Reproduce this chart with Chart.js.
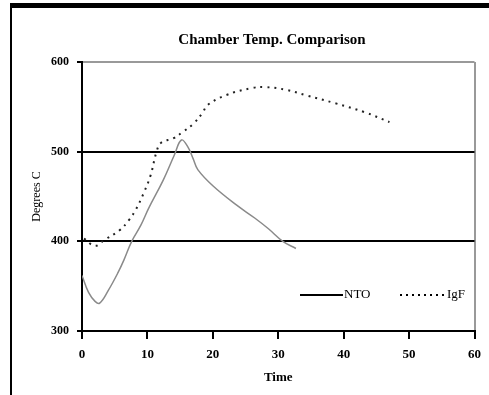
<!DOCTYPE html>
<html>
<head>
<meta charset="utf-8">
<script src="https://cdn.jsdelivr.net/npm/chart.js@4.4.1/dist/chart.umd.min.js"></script>
<style>
    html, body { margin: 0; padding: 0; background: #fff; }
    #wrap { position: relative; width: 489px; height: 395px; }
    #frame {
        position: absolute; left: 10px; top: 3px; width: 490px; height: 387px;
        border-left: 2px solid #000; border-top: 5px solid #000; border-bottom: 2px solid #000;
        pointer-events: none;
    }
    canvas { position: absolute; left: 0; top: 0; }
</style>
</head>
<body>
<div id="wrap">
    <canvas id="chart" width="489" height="395"></canvas>
    <div id="frame"></div>
</div>
<script>
// data (x = time, y = degrees C)
const ntoTime = [0, 1, 2, 2.7, 4, 5.5, 6.4, 7.6, 9, 10.2, 12.4, 14.1, 15.2, 16.2, 17, 17.7, 20, 23.7, 26.4, 28.5, 30.7, 32.7];
const ntoTemp = [362, 343, 333, 331, 345, 365, 379, 400, 418, 437, 468, 496, 513, 505, 492, 480, 462, 440, 426, 414, 400, 392];

const igfTime = [0.3, 2, 3.5, 5.7, 7.2, 8.2, 9.5, 10.5, 11.4, 12.1, 14, 15.4, 17, 18.4, 19.2, 22, 26, 28, 31.2, 34.2, 38.7, 43.2, 47];
const igfTemp = [403, 395, 402, 412, 424, 435, 455, 474, 500, 510, 515, 522, 531, 543, 552, 563, 571, 572, 569, 563, 554, 544, 533];

const xTicks = [0, 10, 20, 30, 40, 50, 60];
const yTicks = [300, 400, 500, 600];

const seriesNames = ['NTO', 'IgF'];

function toPoints(xs, ys) {
    return xs.map((x, i) => ({ x: x, y: ys[i] }));
}

const serif = '"Liberation Serif", "DejaVu Serif", serif';

// title, and a legend placed inside the plot area like the original
const extras = {
    id: 'extras',
    afterDraw(chart) {
        const ctx = chart.ctx;
        ctx.save();
        ctx.fillStyle = '#000';
        ctx.font = 'bold 15px ' + serif;
        ctx.textAlign = 'center';
        ctx.textBaseline = 'middle';
        ctx.fillText('Chamber Temp. Comparison', 272, 40);

        ctx.font = '13px ' + serif;
        ctx.textAlign = 'left';
        const ly = 295;
        // NTO entry
        ctx.strokeStyle = '#000';
        ctx.lineWidth = 2;
        ctx.setLineDash([]);
        ctx.beginPath(); ctx.moveTo(300, ly); ctx.lineTo(343, ly); ctx.stroke();
        ctx.fillText(seriesNames[0], 344, ly);
        // IgF entry
        ctx.setLineDash([2, 4]);
        ctx.beginPath(); ctx.moveTo(400, ly); ctx.lineTo(446, ly); ctx.stroke();
        ctx.setLineDash([]);
        ctx.fillText(seriesNames[1], 447, ly);
        ctx.restore();
    }
};

const ctx = document.getElementById('chart').getContext('2d');
const myChart = new Chart(ctx, {
    type: 'line',
    data: {
        datasets: [{
            label: seriesNames[0],
            data: toPoints(ntoTime, ntoTemp),
            borderColor: '#8a8a8a',
            borderWidth: 1.5,
            pointRadius: 0,
            tension: 0.4,
            fill: false
        }, {
            label: seriesNames[1],
            data: toPoints(igfTime, igfTemp),
            borderColor: '#222',
            borderWidth: 2,
            borderDash: [2, 5],
            pointRadius: 0,
            tension: 0.4,
            fill: false
        }]
    },
    options: {
        responsive: false,
        animation: false,
        layout: { padding: { left: 0, right: 7, top: 62, bottom: 0 } },
        plugins: {
            legend: { display: false },
            title: { display: false },
            tooltip: { enabled: false }
        },
        scales: {
            x: {
                type: 'linear',
                min: 0,
                max: 60,
                afterBuildTicks: s => { s.ticks = xTicks.map(v => ({ value: v })); },
                afterFit: s => { s.height = 64; },
                border: { color: '#000', width: 2 },
                grid: {
                    drawOnChartArea: true,
                    color: c => (c.tick && c.tick.value === 60) ? '#999' : 'rgba(0,0,0,0)',
                    lineWidth: 2,
                    tickColor: '#000',
                    tickLength: 8
                },
                ticks: {
                    color: '#000',
                    padding: 8,
                    maxRotation: 0,
                    font: { family: serif, size: 13, weight: 'bold' }
                },
                title: {
                    display: true,
                    text: 'Time',
                    color: '#000',
                    padding: { top: 0, bottom: 10 },
                    font: { family: serif, size: 13, weight: 'bold' }
                }
            },
            y: {
                min: 300,
                max: 600,
                afterBuildTicks: s => { s.ticks = yTicks.map(v => ({ value: v })); },
                afterFit: s => { s.width = 82; },
                border: { color: '#000', width: 2 },
                grid: {
                    color: c => {
                        if (!c.tick) return 'rgba(0,0,0,0)';
                        if (c.tick.value === 600) return '#999';
                        if (c.tick.value === 300) return 'rgba(0,0,0,0)';
                        return '#000';
                    },
                    lineWidth: 2,
                    tickColor: '#000',
                    tickLength: 5
                },
                ticks: {
                    color: '#000',
                    padding: 8,
                    font: { family: serif, size: 12, weight: 'bold' }
                },
                title: {
                    display: true,
                    text: 'Degrees C',
                    color: '#000',
                    padding: { top: 30, bottom: 0 },
                    font: { family: serif, size: 12 }
                }
            }
        }
    },
    plugins: [extras]
});
</script>
</body>
</html>
